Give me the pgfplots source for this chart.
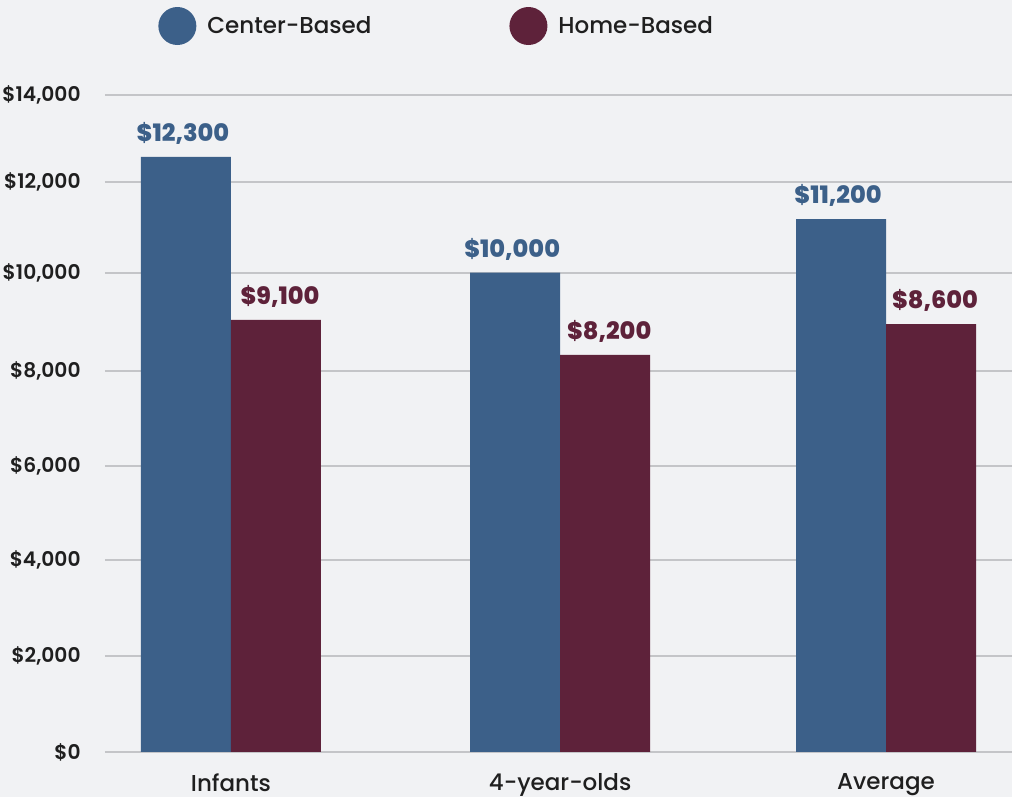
\documentclass[border=0pt]{standalone}
\usepackage{pgfplots}
\pgfplotsset{compat=1.18}
\usepackage{fontspec}
\setmainfont{Poppins}
\newfontfamily\pmd{Poppins Medium}
\newfontfamily\psb{Poppins SemiBold}[Numbers=Monospaced]
\newfontfamily\pxb{Poppins ExtraBold}[Numbers=Monospaced]
\definecolor{bg}{HTML}{F1F2F4}
\definecolor{cblue}{HTML}{3C6089}
\definecolor{cred}{HTML}{5E223A}
\definecolor{gridc}{HTML}{C4C5C8}
\definecolor{txt}{HTML}{1F1F1F}
\begin{document}
\begin{tikzpicture}
\fill[bg] (-52.5pt,-22.5pt) rectangle (453.5pt,376pt);
\useasboundingbox (-52.5pt,-22.5pt) rectangle (453.5pt,376pt);
\begin{axis}[
  at={(0,0)}, anchor=south west,
  scale only axis, width=453.5pt, height=332.5pt,
  xmin=-0.3847, xmax=2.3847, ymin=0, ymax=14000,
  axis line style={draw=none},
  ybar=0pt, bar width=45pt,
  xtick={0,1.005,2}, xticklabels={Infants,4-year-olds,Average},
  ytick={0,2020,4040,6020,8020,10080,12000,13830},
  yticklabels={\$0,{\$2,000},{\$4,000},{\$6,000},{\$8,000},{\$10,000},{\$12,000},{\$14,000}},
  scaled y ticks=false,
  major tick length=0pt,
  tick style={draw=none},
  ymajorgrids, grid style={draw=gridc, line width=1pt},
  yticklabel style={font=\psb\fontsize{10.1}{11}\selectfont, text=txt, anchor=east, inner sep=0pt, xshift=-12pt},
  xticklabel style={font=\pmd\fontsize{11.5}{13}\selectfont, text=txt, anchor=north, inner sep=0pt, yshift=-10.5pt, text depth=0pt},
  nodes near coords, point meta=explicit symbolic,
  nodes near coords style={font=\pxb\fontsize{12}{14}\selectfont, yshift=2.5pt},
  clip=false,
  legend columns=2,
  legend style={at={(0.0584,1.0917)}, anchor=west, draw=none, fill=none, inner sep=0pt,
    font=\pmd\fontsize{11.5}{13}\selectfont, text=txt, nodes={inner sep=0pt},
    /tikz/every odd column/.append style={column sep=5.5pt},
    /tikz/every even column/.append style={column sep=69pt}},
]
\addplot[fill=cblue, draw=none, every node near coord/.append style={text=cblue, xshift=-1.5pt},
  legend image code/.code={\fill[cblue] (9.5pt,0pt) circle (9.5pt);}]
  coordinates {(0,12530) [\$12,300] (1.005,10090) [\$10,000] (2,11220) [\$11,200]};
\addlegendentry{Center-Based}
\addplot[fill=cred, draw=none, every node near coord/.append style={text=cred, xshift=2pt},
  legend image code/.code={\fill[cred] (9.5pt,0pt) circle (9.5pt);}]
  coordinates {(0,9095) [\$9,100] (1.005,8360) [\$8,200] (2,9010) [\$8,600]};
\addlegendentry{Home-Based}
\end{axis}
\end{tikzpicture}
\end{document}
